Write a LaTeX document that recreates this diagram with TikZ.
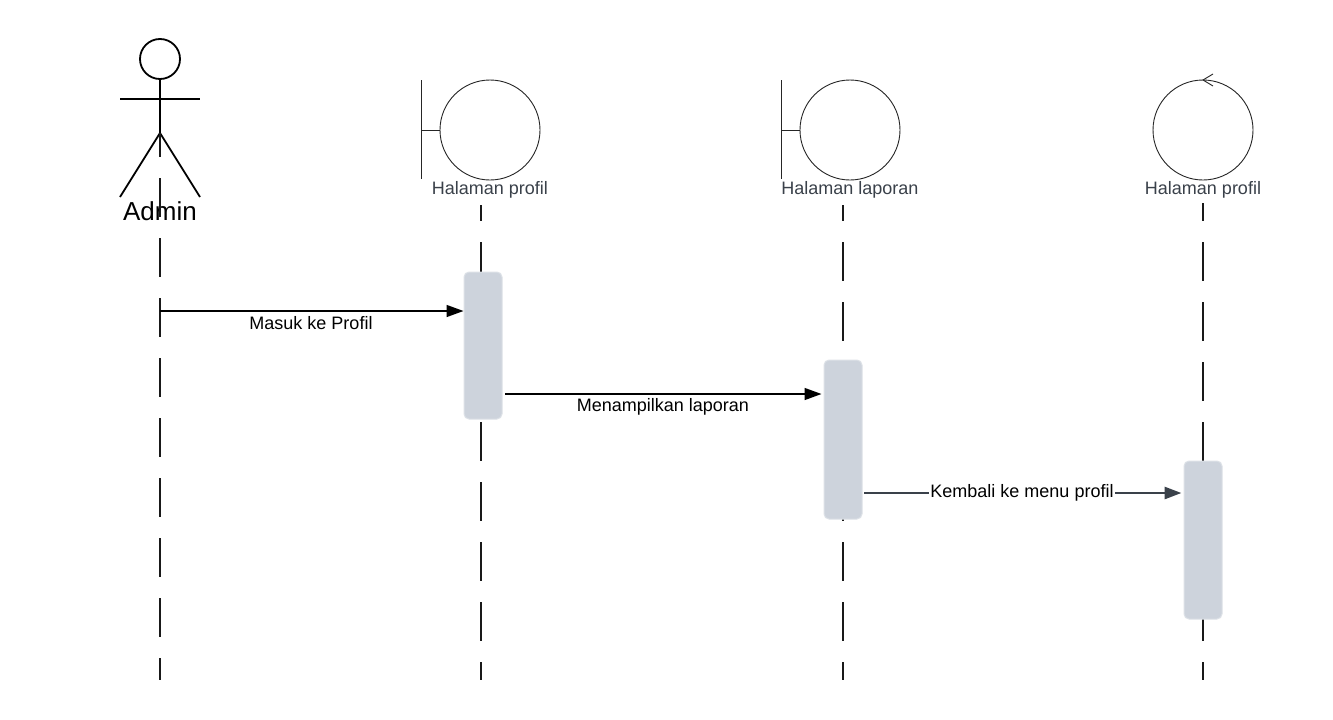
\documentclass[tikz,border=0pt]{standalone}
\usepackage{fontspec}
\setmainfont{Liberation Sans}
\usetikzlibrary{arrows.meta}
\definecolor{actfill}{HTML}{CDD3DC}
\definecolor{actedge}{HTML}{DDE1E7}
\definecolor{lbl}{HTML}{3A414A}
\definecolor{msgdark}{HTML}{3A414A}
\begin{document}
\begin{tikzpicture}[x=1pt,y=-1pt,
  actorline/.style={line width=1.8pt,black},
  iconline/.style={line width=0.9pt,black!85},
  lifeline/.style={line width=1.8pt,black!90,dash pattern=on 39pt off 21pt},
  actbox/.style={draw=actedge,line width=1pt,fill=actfill,rounded corners=5pt,minimum width=38pt,inner sep=0pt},
  partlabel/.style={text=lbl,font=\fontsize{18}{20}\selectfont,inner sep=0pt},
  msglabel/.style={text=black,font=\fontsize{18}{20}\selectfont,inner sep=0pt},
  msg/.style={line width=1.5pt,black,-{Triangle[length=17pt,width=12pt]}},
  msgd/.style={line width=2.8pt,msgdark,-{Triangle[length=17pt,width=12pt]}}]
\useasboundingbox (0,0) rectangle (1333,720);
\fill[white] (0,0) rectangle (1333,720);

% Actor
\node[circle,draw,line width=1.8pt,minimum size=40pt,inner sep=0pt] (head) at (160,59) {};
\coordinate (hip) at (160,133);
\draw[actorline] (head.south) -- (hip);
\draw[actorline] (120,99) -- (200,99);
\draw[actorline] (120,197) -- (hip) -- (200,197);
\node[font=\fontsize{26}{28}\selectfont,inner sep=0pt] (admin) at (160,211) {Admin};

% Boundary 1
\node[circle,draw=black!85,line width=0.9pt,minimum size=100pt,inner sep=0pt] (b1) at (490,130) {};
\draw[iconline] (421,80) -- (421,179);
\draw[iconline] (421,130) -- (b1.west);
\node[partlabel] (l1) at (490,189.5) {Halaman profil};

% Boundary 2
\node[circle,draw=black!85,line width=0.9pt,minimum size=100pt,inner sep=0pt] (b2) at (850,130) {};
\draw[iconline] (781,80) -- (781,179);
\draw[iconline] (781,130) -- (b2.west);
\node[partlabel] (l2) at (850,189.5) {Halaman laporan};

% Control
\node[circle,draw=black!85,line width=0.9pt,minimum size=100pt,inner sep=0pt] (c1) at (1203,130) {};
\draw[iconline] (1213,74) -- (1203,80) -- (1213,86);
\node[partlabel] (l3) at (1203,189.5) {Halaman profil};

% Lifelines
\coordinate (ll0b) at (160,680);
\coordinate (ll1t) at (481,205); \coordinate (ll1b) at (481,680);
\coordinate (ll2t) at (843,205); \coordinate (ll2b) at (843,680);
\coordinate (ll3t) at (1203,203); \coordinate (ll3b) at (1203,680);
\draw[lifeline,dash phase=15pt] (hip) -- (ll0b);
\draw[lifeline,dash phase=23pt] (ll1t) -- (ll1b);
\draw[lifeline,dash phase=23pt] (ll2t) -- (ll2b);
\draw[lifeline,dash phase=21pt] (ll3t) -- (ll3b);

% Activations
\node[actbox,minimum height=147pt] (a1) at (483,345.5) {};
\node[actbox,minimum height=159pt] (a2) at (843,439.5) {};
\node[actbox,minimum height=158pt] (a3) at (1203,540) {};

% Messages
\coordinate (m1s) at (160,311);
\draw[msg] (m1s) -- (a1.west |- m1s);
\node[msglabel] (t1) at (311,323.5) {Masuk ke Profil};

\coordinate (m2s) at (505,394);
\draw[msg] (m2s) -- ([xshift=-2pt]a2.west |- m2s);
\node[msglabel] (t2) at (663,406.5) {Menampilkan laporan};

\coordinate (m3s) at (864,493);
\draw[msgd] (m3s) -- ([xshift=-2pt]a3.west |- m3s);
\node[msglabel,fill=white,inner xsep=1pt] (t3) at (1022,493) {Kembali ke menu profil};
\end{tikzpicture}
\end{document}
